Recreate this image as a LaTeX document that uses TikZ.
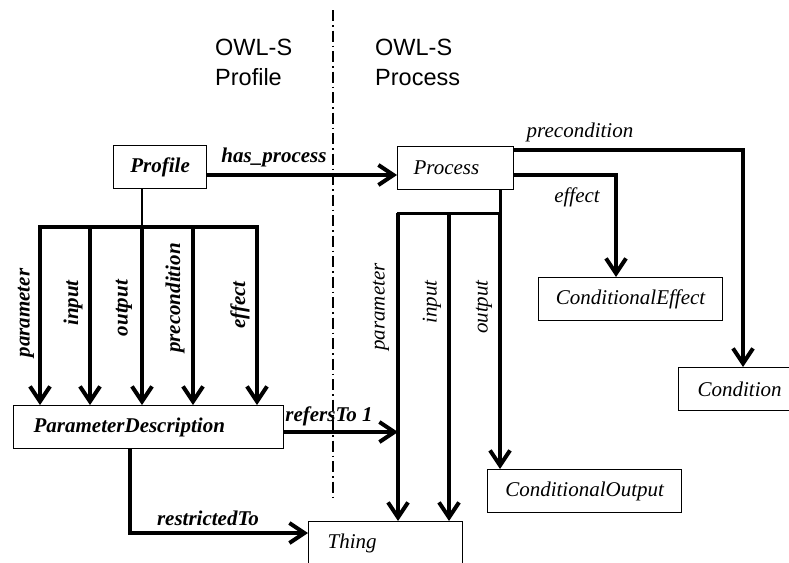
\documentclass[tikz,border=0pt]{standalone}
\usepackage{fontspec}
\setmainfont{Liberation Serif}
\newfontfamily\sidefont{Liberation Sans}
\usetikzlibrary{arrows.meta}
\begin{document}
\begin{tikzpicture}[x=1pt,y=-1pt,
  box/.style={draw,line width=1.2pt,rectangle,inner ysep=0pt,inner xsep=0pt,
    minimum height=43pt,font=\fontsize{21}{25}\selectfont\itshape},
  boldbox/.style={box,font=\fontsize{21}{25}\selectfont\bfseries\itshape},
  link/.style={line width=4pt,-{Straight Barb[length=15pt,width=20pt]}},
  bar/.style={line width=4pt,line cap=rect},
  lbl/.style={font=\fontsize{21}{25}\selectfont\itshape,inner sep=0pt},
  blbl/.style={font=\fontsize{21}{25}\selectfont\bfseries\itshape,inner sep=0pt},
  side/.style={font=\sidefont\fontsize{23.5}{30}\selectfont,align=left,inner sep=0pt},
  divider/.style={line width=2pt,dash pattern=on 11pt off 4pt on 1.5pt off 4pt}
]
\clip (0,0) rectangle (789,562);
\fill[white] (0,0) rectangle (789,562);

% column headings and the dividing line
\node[side,anchor=west] (hprofile) at (215,62) {OWL-S\\Profile};
\node[side,anchor=west] (hprocess) at (375,62) {OWL-S\\Process};
\draw[divider] (333,10) -- (333,497);

% classes
\node[boldbox,anchor=north west,minimum width=93pt] (profile) at (113,145) {Profile};
\node[box,anchor=north west,inner xsep=16pt,text width=84pt,align=left] (process) at (397,146) {Process};
\node[boldbox,anchor=north west,inner xsep=20pt,text width=230pt,align=left] (pd) at (13,405) {ParameterDescription};
\node[box,anchor=north west,minimum width=184pt] (ceffect) at (538,277) {ConditionalEffect};
\node[box,anchor=north west,inner xsep=19pt,text width=92pt,align=left] (condition) at (678,367) {Condition};
\node[box,anchor=north west,minimum width=194pt] (coutput) at (487,469) {ConditionalOutput};
\node[box,anchor=north west,inner xsep=19pt,text width=116pt,align=left,minimum height=44pt] (thing) at (308,521) {Thing};

% helper points
\coordinate (hpy) at (0,175);
\coordinate (pfork) at (142,227);
\coordinate (pa) at (40,227);
\coordinate (pb) at (90,227);
\coordinate (pc) at (142,227);
\coordinate (pdd) at (193,227);
\coordinate (pe) at (257,227);
\coordinate (efx) at (616,175);
\coordinate (pcx) at (743,150);
\coordinate (osx) at (500,213);
\coordinate (pbx) at (398,213);
\coordinate (ibx) at (449,213);
\coordinate (rty) at (0,432);
\coordinate (rsx) at (130,533);

% profile side
\draw[link] (profile.east |- hpy) -- (process.west |- hpy);
\draw[line width=2pt] (profile.south -| pfork) -- (pfork);
\draw[bar] (pa) -- (pe);
\draw[link] (pa) -- (pa |- pd.north);
\draw[link] (pb) -- (pb |- pd.north);
\draw[link] (pc) -- (pc |- pd.north);
\draw[link] (pdd) -- (pdd |- pd.north);
\draw[link] (pe) -- (pe |- pd.north);
\draw[link] (pd.east |- rty) -- (pbx |- rty);
\draw[link] (pd.south -| rsx) -- (rsx) -- (thing.west |- rsx);

% process side
\draw[link] (process.east |- pcx) -- (pcx) -- (pcx |- condition.north);
\draw[link] (process.east |- efx) -- (efx) -- (efx |- ceffect.north);
\draw[line width=3pt] (process.south -| osx) -- (osx);
\draw[line width=3pt,line cap=rect] (pbx) -- (osx);
\draw[link] (osx) -- (osx |- coutput.north);
\draw[link] (pbx) -- (pbx |- thing.north);
\draw[link] (ibx) -- (ibx |- thing.north);

% property labels
\node[blbl] (lhas) at (274,157) {has\_process};
\node[blbl,rotate=90] (lpar) at (26,313) {parameter};
\node[blbl,rotate=90] (linp) at (73,303) {input};
\node[blbl,rotate=90] (lout) at (124,308) {output};
\node[blbl,rotate=90] (lpre) at (175,298) {precondition};
\node[blbl,rotate=90] (leff) at (240,305) {effect};
\node[blbl] (lref) at (329,416) {refersTo 1};
\node[blbl] (lres) at (208,518) {restrictedTo};
\node[lbl] (rpre) at (580,132) {precondition};
\node[lbl] (reff) at (577,197) {effect};
\node[lbl,rotate=90] (rpar) at (381,307) {parameter};
\node[lbl,rotate=90] (rinp) at (432,302) {input};
\node[lbl,rotate=90] (rout) at (484,307) {output};
\end{tikzpicture}
\end{document}
